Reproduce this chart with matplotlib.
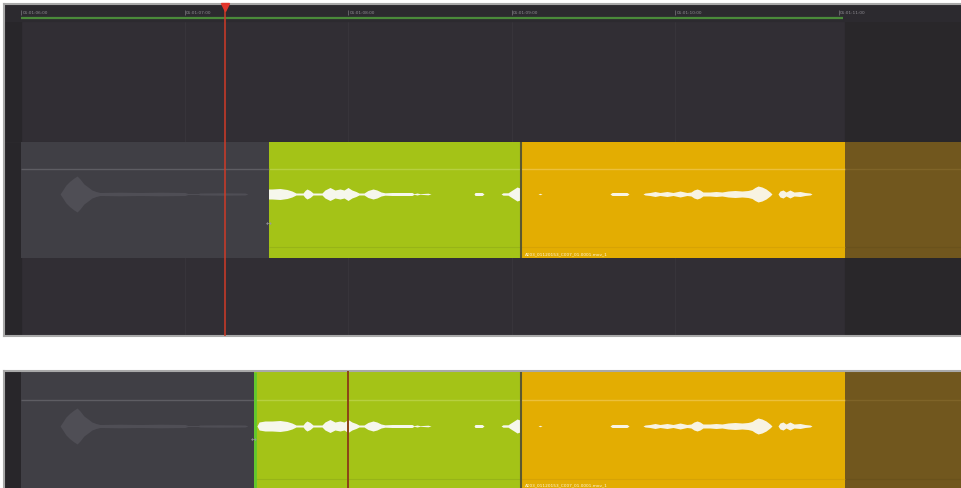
import matplotlib.pyplot as plt
from matplotlib.patches import Rectangle

# -----------------------------
# Data (timeline seconds, 01:01:SS:00)
# -----------------------------
ruler_secs = [6, 7, 8, 9, 10, 11]
ruler_labels = ["01:01:06:00", "01:01:07:00", "01:01:08:00",
                "01:01:09:00", "01:01:10:00", "01:01:11:00"]
timeline_end = 11.04

# clips: previous (grey), green, orange, tail past the end
before_starts = [6.0, 7.517, 9.058, 11.04]
before_ends = [7.517, 9.058, 11.04, 11.76]
after_starts = [6.0, 7.425, 9.058, 11.04]
after_ends = [7.425, 9.058, 11.04, 11.76]

playhead_before = 7.248
playhead_after = 8.0

clip_label = "A003_01120153_C007_01.0001.mov_1"

# waveform envelopes: time (s) and half height (px)
prev_wave_t = [6.239, 6.251, 6.275, 6.300, 6.324, 6.343, 6.361, 6.385, 6.410,
               6.434, 6.459, 6.483, 6.606, 6.728, 6.850, 7.003, 7.021, 7.083,
               7.095, 7.217, 7.370, 7.388]
prev_wave_amp = [0, 3, 9, 13, 16, 18, 15, 10, 7,
                 4, 2.5, 1.5, 1.8, 1.5, 1.8, 1.5, 0.5, 0.5,
                 1.0, 1.2, 1.0, 0]

green_wave_t = [7.443, 7.456, 7.492, 7.535, 7.584, 7.627, 7.657, 7.682, 7.725,
                7.737, 7.749, 7.768, 7.786, 7.841, 7.859, 7.890, 7.920, 7.951,
                7.976, 8.000, 8.024, 8.049, 8.067, 8.098, 8.122, 8.153, 8.177,
                8.202, 8.226, 8.269, 8.391, 8.404, 8.422, 8.440, 8.489, 8.508,
                8.771, 8.777, 8.820, 8.832, 8.936, 8.948, 8.979, 8.991, 9.015,
                9.034, 9.052, 9.064]
green_wave_amp = [0, 4, 5, 5, 5.5, 4.5, 3, 1, 1,
                  3.5, 5, 3.5, 1, 1, 4, 6.5, 4, 5,
                  4, 6.5, 4, 2.5, 1, 1, 3.5, 5, 4,
                  2, 1.2, 1.5, 1.5, 0.3, 1, 0.3, 0.8, 0,
                  0, 1.5, 1.5, 0, 0, 1.2, 1.2, 2.5, 5,
                  7, 6, 5]

orange_wave_t = [9.162, 9.174, 9.187, 9.602, 9.615, 9.706, 9.719, 9.804, 9.817,
                 9.847, 9.878, 9.908, 9.951, 9.988, 10.031, 10.073, 10.098, 10.116,
                 10.135, 10.153, 10.171, 10.214, 10.251, 10.287, 10.324, 10.367,
                 10.410, 10.446, 10.471, 10.489, 10.508, 10.532, 10.557, 10.581,
                 10.593, 10.630, 10.642, 10.661, 10.679, 10.703, 10.728, 10.765,
                 10.795, 10.826, 10.838]
orange_wave_amp = [0, 0.7, 0, 0, 1.5, 1.5, 0, 0, 1,
                   1.5, 2.5, 1.5, 2.5, 1.5, 3, 1.5, 2, 4,
                   5, 4, 2, 2, 2.5, 2, 3, 3.5,
                   3, 3.5, 4.5, 6.5, 8, 7, 5, 2,
                   0, 0, 3, 4, 2, 4, 2, 2.5,
                   1.5, 1, 0]

# -----------------------------
# Colours
# -----------------------------
BG = "#312e34"
HEADER = "#28262a"
BEYOND = "#29272a"
RULER_BG = "#2c2a2f"
GRID = "#37343a"
clip_colors = ["#403f45", "#a4c317", "#e3ad02", "#71571e"]
vol_colors = ["#5e5d63", "#b7d040", "#ecc03c", "#7f6428"]
div_colors = ["#403f45", "#97b417", "#d7a304", "#6a521c"]
wave_colors = ["#4f4e55", "#f6f7ec", "#f8f3e2"]

# layout (figure pixels, y downwards)
SEC_PX = 163.5
X0 = 6 + (4 - 21) / SEC_PX
X1 = 6 + (961 - 21) / SEC_PX

lay_before = dict(top=5, bottom=337, track_top=143, track_bot=259,
                  vol_y=170, wave_y=195, div_y=248, label_y=254, trim_y=225)
lay_after = dict(top=372, bottom=489, track_top=373, track_bot=520,
                 vol_y=401, wave_y=427, div_y=480, label_y=485, trim_y=441)


def draw_panel(ax, starts, ends, lay, ruler):
    ax.set_xlim(X0, X1)
    ax.set_ylim(lay["bottom"], lay["top"])
    ax.set_facecolor(BG)
    ax.set_xticks([])
    ax.set_yticks([])

    ax.axvspan(X0, 6.0, color=HEADER, zorder=0)
    ax.axvspan(timeline_end, X1, color=BEYOND, zorder=0)
    for s in ruler_secs[1:-1]:
        ax.axvline(s, color=GRID, lw=0.8, zorder=0.5)

    if ruler:
        ax.axhspan(lay["top"], 22, color=RULER_BG, zorder=1)
        ax.hlines(18.5, 6.0, timeline_end - 0.012, color="#4a8a3a", lw=1.6, zorder=2)
        ax.vlines(ruler_secs, 11, 16, color="#7c7a80", lw=0.5, zorder=2)
        for s, lab in zip(ruler_secs, ruler_labels):
            ax.text(s + 0.008, 13.5, lab, fontsize=3.1, color="#8e8c92",
                    va="center", ha="left", zorder=3)
        ax.hlines(lay["track_top"], X0, X1, color="#2a282c", lw=0.8, zorder=1)

    tt, tb = lay["track_top"], lay["track_bot"]
    for i, (s, e) in enumerate(zip(starts, ends)):
        ax.broken_barh([(s, e - s)], (tt, tb - tt), facecolors=clip_colors[i], zorder=2)
        ax.hlines(lay["vol_y"], s, e, colors=vol_colors[i], lw=1.0, zorder=3)
        if i > 0:
            ax.hlines(lay["div_y"], s, e, colors=div_colors[i], lw=0.8, zorder=3)

    # waveforms clipped to their clip
    waves = [(prev_wave_t, prev_wave_amp), (green_wave_t, green_wave_amp),
             (orange_wave_t, orange_wave_amp)]
    for i, (wt, wa) in enumerate(waves):
        y = lay["wave_y"]
        poly = ax.fill_between(wt, [y - a for a in wa], [y + a for a in wa],
                               color=wave_colors[i], lw=0, zorder=4)
        rect = Rectangle((starts[i], tt), ends[i] - starts[i], tb - tt,
                         transform=ax.transData)
        poly.set_clip_path(rect)

    # cut line between green and orange
    ax.vlines(starts[2], tt, tb, color="#5b5830", lw=1.5, zorder=5)

    ax.text(starts[2] + 0.025, lay["label_y"], clip_label, fontsize=3.1,
            color="#fff6dc", va="center", ha="left", zorder=5)
    ax.text(starts[1] - 0.004, lay["trim_y"], "\u2194", fontsize=5,
            color="#9a999e", va="center", ha="center", zorder=6)

    for side in ["left", "top", "bottom", "right"]:
        ax.spines[side].set_color("#a9a9a9")
        ax.spines[side].set_linewidth(1.5)
    ax.spines["right"].set_visible(False)


fig = plt.figure(figsize=(9.61, 4.89), dpi=100, facecolor="white")

ax1 = fig.add_axes([4 / 961, 1 - 337 / 489, 957 / 961, 332 / 489])
draw_panel(ax1, before_starts, before_ends, lay_before, ruler=True)
ax1.axvline(playhead_before, color="#cf3b27", lw=1.1, zorder=7)
ax1.plot(playhead_before, 7.5, marker="v", markersize=5.5, color="#e2352b",
         zorder=8, clip_on=False)

ax2 = fig.add_axes([4 / 961, 0, 957 / 961, 117 / 489])
draw_panel(ax2, after_starts, after_ends, lay_after, ruler=False)
ax2.spines["bottom"].set_visible(False)
ax2.vlines(after_starts[1] + 0.008, lay_after["track_top"], lay_after["bottom"],
           color="#5fc82e", lw=2, zorder=5)
ax2.axvline(playhead_after, color="#8c4316", lw=1.4, zorder=7)

fig.savefig("out.png", dpi=100, facecolor="white")
